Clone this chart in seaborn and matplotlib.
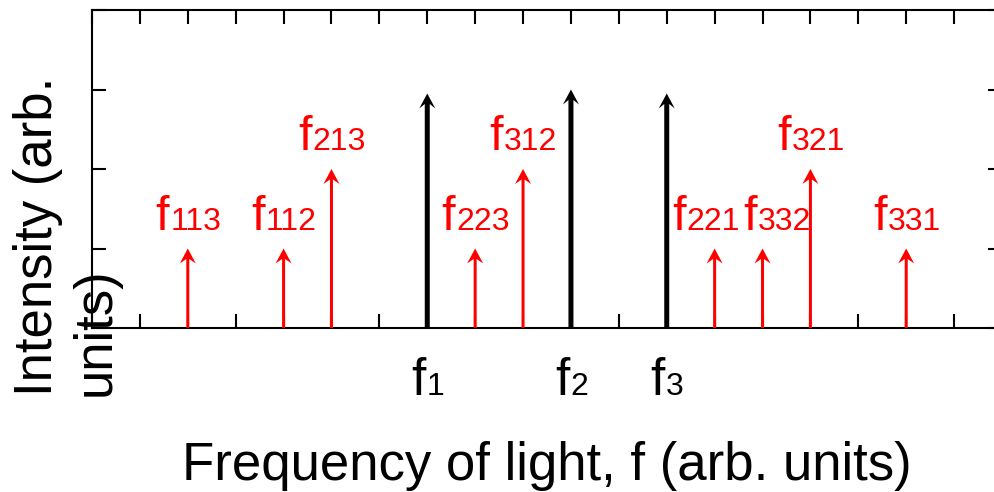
import matplotlib
matplotlib.use("Agg")
import matplotlib.pyplot as plt
import seaborn as sns
import pandas as pd
from matplotlib.ticker import MultipleLocator

# Данные: частоты генерации (красные) и накачки (чёрные)
mix_freqs = [2, 4, 5, 8, 9, 13, 14, 15, 17]
mix_heights = [1, 1, 2, 1, 2, 1, 1, 2, 1]
mix_subs = ['113', '112', '213', '223', '312', '221', '332', '321', '331']

pump_freqs = [7, 10, 12]
pump_heights = [2.95, 3.0, 2.95]
pump_subs = ['1', '2', '3']

x_max = 19
y_max = 4

# сдвиг подписей (px), чтобы соседние не наезжали
label_nudge = {'221': -9, '332': 14}

sns.set_theme(style='white', rc={
    'xtick.direction': 'in',
    'ytick.direction': 'in',
    'text.color': 'black',
    'axes.labelcolor': 'black',
})
plt.rcParams['font.family'] = ['Liberation Sans', 'DejaVu Sans']

fig = plt.figure(figsize=(9.94, 4.92), dpi=100)
fig.patch.set_facecolor('white')
ax = fig.add_axes([92 / 994, 1 - 328 / 492, 910 / 994, 318 / 492])

mix = pd.DataFrame({'freq': mix_freqs, 'height': mix_heights, 'sub': mix_subs})
pump = pd.DataFrame({'freq': pump_freqs, 'height': pump_heights, 'sub': pump_subs})

ax.set_xlim(0, x_max)
ax.set_ylim(0, y_max)

# px -> data units
px_x = x_max / 910
px_y = y_max / 318


def draw_arrows(df, color, shaft_px):
    for _, r in df.iterrows():
        ax.arrow(r['freq'], 0, 0, r['height'],
                 width=shaft_px * px_x, head_width=16 * px_x,
                 head_length=15 * px_y, overhang=0.3,
                 length_includes_head=True, color=color, lw=0, zorder=3)


draw_arrows(mix, 'red', 3)
draw_arrows(pump, 'black', 5)

renderer = fig.canvas.get_renderer()


def sub_label(x, y, sub, color, size_f, size_sub, dy, nudge=0):
    t1 = ax.annotate('f', (x, y), xytext=(0, dy), textcoords='offset pixels',
                     ha='left', va='baseline', fontsize=size_f, color=color)
    t2 = ax.annotate(sub, (x, y), xytext=(0, dy), textcoords='offset pixels',
                     ha='left', va='baseline', fontsize=size_sub, color=color)
    w1 = t1.get_window_extent(renderer).width
    w2 = t2.get_window_extent(renderer).width
    start = -(w1 + w2) / 2 + nudge
    t1.xyann = (start, dy)
    t2.xyann = (start + w1 + 1, dy)


for _, r in mix.iterrows():
    sub_label(r['freq'], r['height'], r['sub'], 'red', 35, 23, 19,
              label_nudge.get(r['sub'], 0))

for _, r in pump.iterrows():
    sub_label(r['freq'], 0, r['sub'], 'black', 37, 23, -67)

# Оси и тики
ax.xaxis.set_major_locator(MultipleLocator(1))
ax.yaxis.set_major_locator(MultipleLocator(1))
ax.tick_params(axis='both', which='major', direction='in', length=10, width=1.5,
               color='black', top=True, right=True, bottom=True, left=True,
               labelbottom=False, labelleft=False)
for spine in ax.spines.values():
    spine.set_linewidth(1.5)
    spine.set_color('black')
    spine.set_visible(True)

ax.set_xlabel('Frequency of light, f (arb. units)', fontsize=38, va='baseline')
ax.xaxis.set_label_coords(0.5, -0.478)
ax.set_ylabel('Intensity (arb.\nunits)', fontsize=38, ha='left', va='center',
              multialignment='left')
ax.yaxis.set_label_coords(-0.0275, -0.214)

ax.set_facecolor('white')
fig.savefig('out.png', dpi=100, facecolor='white')
